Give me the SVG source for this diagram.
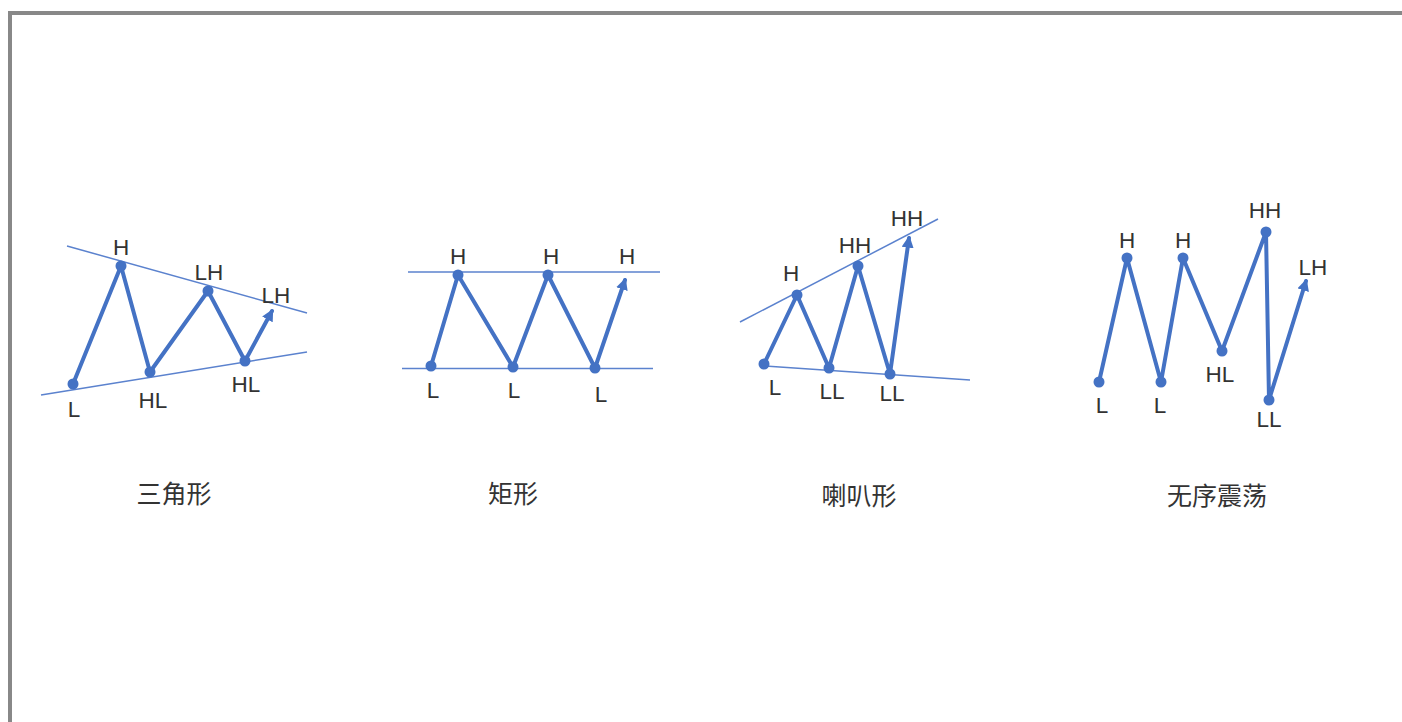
<svg xmlns="http://www.w3.org/2000/svg" width="1402" height="722" viewBox="0 0 1402 722">
<defs>
<marker id="arr" viewBox="0 0 10 10" refX="8" refY="5" markerWidth="3" markerHeight="3" orient="auto" markerUnits="strokeWidth">
<path d="M0,0 L10,5 L0,10 z" fill="#4472C4"/>
</marker>
<style>
.frame{fill:none;stroke:#888;stroke-width:4}
.guide{stroke:#5B82CE;stroke-width:1.5;fill:none}
.zig{stroke:#4472C4;stroke-width:4;fill:none;stroke-linejoin:round;stroke-linecap:round}
.dot{fill:#4472C4}
.lbl{font-family:"Liberation Sans",Arial,sans-serif;font-size:22.5px;fill:#333;text-anchor:middle}
.ttl{font-family:"Liberation Sans","Noto Sans CJK SC",sans-serif;font-size:25px;fill:#333;text-anchor:middle}
</style>
</defs>
<rect width="1402" height="722" fill="#fff"/>
<path class="frame" d="M10,722 L10,13 L1402,13"/>

<g id="connectors">
<line class="guide" x1="67" y1="246" x2="307" y2="313"/>
<line class="guide" x1="41" y1="395" x2="307" y2="352"/>
<polyline class="zig" points="73,384 121,266 150,372 208,291 245,361 272,311" marker-end="url(#arr)"/>
<line class="guide" x1="408" y1="272" x2="660" y2="272"/>
<line class="guide" x1="402" y1="368.5" x2="653" y2="368.5"/>
<polyline class="zig" points="431,366 458,275 513,367 548,275 595,368 625,280" marker-end="url(#arr)"/>
<line class="guide" x1="740" y1="322" x2="938" y2="219"/>
<line class="guide" x1="765" y1="366" x2="970" y2="380"/>
<polyline class="zig" points="764,364 797,295 829,368 858,266 890,374 909,238" marker-end="url(#arr)"/>
<polyline class="zig" points="1099,382 1127,258 1161,382 1183,258 1222,351 1266,232 1269,400 1306,281" marker-end="url(#arr)"/>
</g>

<g id="triangle">
<circle class="dot" cx="73" cy="384" r="5.5"/>
<circle class="dot" cx="121" cy="266" r="5.5"/>
<circle class="dot" cx="150" cy="372" r="5.5"/>
<circle class="dot" cx="208" cy="291" r="5.5"/>
<circle class="dot" cx="245" cy="361" r="5.5"/>
<text class="lbl" x="121" y="255">H</text>
<text class="lbl" x="209" y="280">LH</text>
<text class="lbl" x="276" y="303">LH</text>
<text class="lbl" x="74" y="417">L</text>
<text class="lbl" x="153" y="408">HL</text>
<text class="lbl" x="246" y="392">HL</text>
<text class="ttl" x="174" y="503">三角形</text>
</g>

<g id="rectangle">
<circle class="dot" cx="431" cy="366" r="5.5"/>
<circle class="dot" cx="458" cy="275" r="5.5"/>
<circle class="dot" cx="513" cy="367" r="5.5"/>
<circle class="dot" cx="548" cy="275" r="5.5"/>
<circle class="dot" cx="595" cy="368" r="5.5"/>
<text class="lbl" x="458" y="264">H</text>
<text class="lbl" x="551" y="264">H</text>
<text class="lbl" x="627" y="264">H</text>
<text class="lbl" x="433" y="398">L</text>
<text class="lbl" x="514" y="398">L</text>
<text class="lbl" x="601" y="402">L</text>
<text class="ttl" x="513" y="503">矩形</text>
</g>

<g id="horn">
<circle class="dot" cx="764" cy="364" r="5.5"/>
<circle class="dot" cx="797" cy="295" r="5.5"/>
<circle class="dot" cx="829" cy="368" r="5.5"/>
<circle class="dot" cx="858" cy="266" r="5.5"/>
<circle class="dot" cx="890" cy="374" r="5.5"/>
<text class="lbl" x="791" y="281">H</text>
<text class="lbl" x="855" y="253">HH</text>
<text class="lbl" x="907" y="226">HH</text>
<text class="lbl" x="775" y="395">L</text>
<text class="lbl" x="832" y="399">LL</text>
<text class="lbl" x="892" y="401">LL</text>
<text class="ttl" x="859" y="505">喇叭形</text>
</g>

<g id="random">
<circle class="dot" cx="1099" cy="382" r="5.5"/>
<circle class="dot" cx="1127" cy="258" r="5.5"/>
<circle class="dot" cx="1161" cy="382" r="5.5"/>
<circle class="dot" cx="1183" cy="258" r="5.5"/>
<circle class="dot" cx="1222" cy="351" r="5.5"/>
<circle class="dot" cx="1266" cy="232" r="5.5"/>
<circle class="dot" cx="1269" cy="400" r="5.5"/>
<text class="lbl" x="1127" y="248">H</text>
<text class="lbl" x="1183" y="248">H</text>
<text class="lbl" x="1265" y="218">HH</text>
<text class="lbl" x="1313" y="275">LH</text>
<text class="lbl" x="1102" y="413">L</text>
<text class="lbl" x="1160" y="413">L</text>
<text class="lbl" x="1220" y="382">HL</text>
<text class="lbl" x="1269" y="427">LL</text>
<text class="ttl" x="1217" y="505">无序震荡</text>
</g>
</svg>
